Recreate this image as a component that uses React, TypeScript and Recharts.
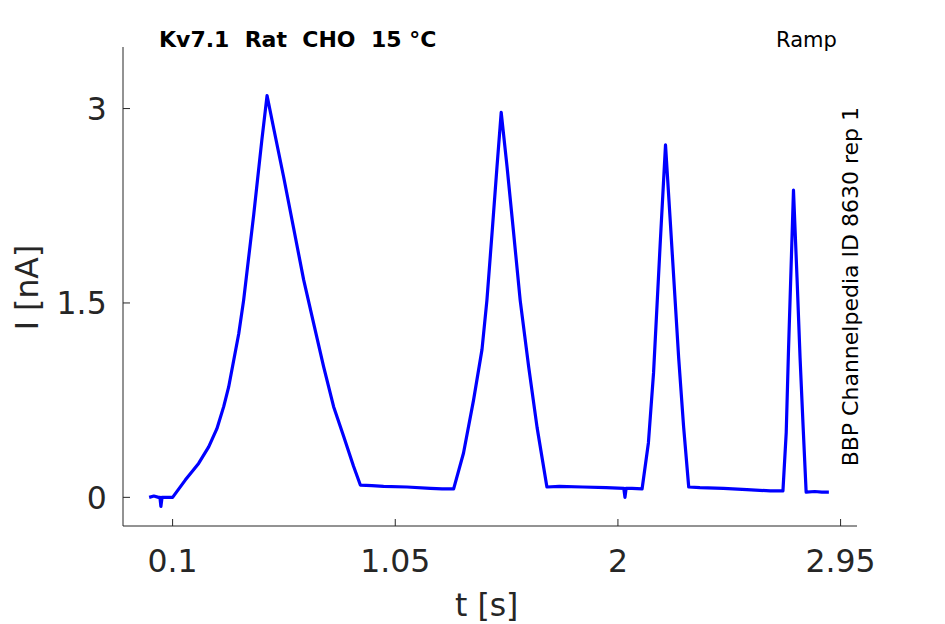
import React from "react";
import { LineChart, Line, XAxis, YAxis } from "recharts";

const timeS = [
  0, 0.02, 0.04, 0.046, 0.05, 0.055, 0.08, 0.1,
  0.154, 0.211, 0.254, 0.289, 0.318, 0.339, 0.361, 0.382, 0.403, 0.446, 0.481, 0.503,
  0.531, 0.574, 0.616, 0.659, 0.702, 0.744, 0.787, 0.83, 0.872, 0.901,
  0.95, 1.0, 1.1, 1.2, 1.25, 1.299,
  1.341, 1.384, 1.42, 1.441, 1.463, 1.484, 1.502, 1.527, 1.555, 1.583, 1.619, 1.655, 1.697,
  1.75, 1.85, 1.95, 2.025, 2.03, 2.035, 2.06, 2.103,
  2.13, 2.152, 2.181, 2.203, 2.224, 2.259, 2.28, 2.302,
  2.35, 2.45, 2.55, 2.65, 2.704,
  2.718, 2.728, 2.749, 2.764, 2.777, 2.79, 2.803,
  2.84, 2.87, 2.9,
];

const currentNA = [
  0.0, 0.01, 0.0, 0.0, -0.07, 0.0, 0.0, 0.0,
  0.133, 0.262, 0.39, 0.53, 0.7, 0.85, 1.06, 1.26, 1.52, 2.18, 2.76, 3.1,
  2.85, 2.47, 2.08, 1.68, 1.34, 1.01, 0.7, 0.47, 0.24, 0.095,
  0.09, 0.085, 0.08, 0.07, 0.065, 0.065,
  0.34, 0.75, 1.14, 1.52, 2.04, 2.55, 2.97, 2.55, 2.04, 1.52, 1.01, 0.54, 0.08,
  0.085, 0.08, 0.075, 0.07, 0.0, 0.07, 0.07, 0.065,
  0.42, 0.96, 1.98, 2.72, 2.11, 1.08, 0.55, 0.08,
  0.075, 0.07, 0.06, 0.05, 0.05,
  0.5, 1.15, 2.37, 1.7, 1.08, 0.55, 0.04,
  0.045, 0.04, 0.04,
];

const xTicks = [0.1, 1.05, 2, 2.95];
const yTicks = [0, 1.5, 3];
const xDomain = [-0.1116, 3.02];
const yDomain = [-0.221, 3.475];

const data = timeS.map((t, i) => ({ t, i: currentNA[i] }));

const INK = "#262626";
const FONT = "DejaVu Sans";

export default function App() {
  return (
    <div style={{ position: "absolute", left: 0, top: 0, width: 945, height: 624, fontFamily: FONT, background: "#fff" }}>
      <LineChart width={945} height={624} data={data} margin={{ top: 47, right: 88, bottom: 0, left: 0 }}>
        <XAxis
          dataKey="t"
          type="number"
          domain={xDomain}
          ticks={xTicks}
          interval={0}
          allowDataOverflow
          height={98}
          stroke={INK}
          tickSize={-7}
          tickMargin={30.7}
          tick={{ fill: INK, fontSize: 31.5, fontFamily: FONT }}
        />
        <YAxis
          type="number"
          domain={yDomain}
          ticks={yTicks}
          interval={0}
          allowDataOverflow
          width={123}
          stroke={INK}
          tickSize={-7}
          tickMargin={23.3}
          tick={{ fill: INK, fontSize: 31.5, fontFamily: FONT }}
        />
        <Line
          type="linear"
          dataKey="i"
          stroke="#0000ff"
          strokeWidth={3.2}
          strokeLinejoin="round"
          dot={false}
          isAnimationActive={false}
        />
      </LineChart>
      <svg width={945} height={624} style={{ position: "absolute", left: 0, top: 0, pointerEvents: "none" }}>
        <text x={159} y={47.3} fontFamily={FONT} fontWeight="bold" fontSize={22} fill="#000">
          {"Kv7.1\u00A0\u00A0Rat\u00A0\u00A0CHO\u00A0\u00A015\u00A0°C"}
        </text>
        <text x={776} y={46.7} fontFamily={FONT} fontSize={21} fill="#000">Ramp</text>
        <text
          x={0}
          y={0}
          transform="translate(857.5,286.7) rotate(-90)"
          textAnchor="middle"
          fontFamily={FONT}
          fontSize={22}
          fill="#000"
        >
          BBP Channelpedia ID 8630 rep 1
        </text>
        <text x={486.7} y={616} textAnchor="middle" fontFamily={FONT} fontSize={31.5} fill={INK}>t [s]</text>
        <text
          x={0}
          y={0}
          transform="translate(37.5,287.5) rotate(-90)"
          textAnchor="middle"
          fontFamily={FONT}
          fontSize={31.5}
          fill={INK}
        >
          I [nA]
        </text>
      </svg>
    </div>
  );
}
